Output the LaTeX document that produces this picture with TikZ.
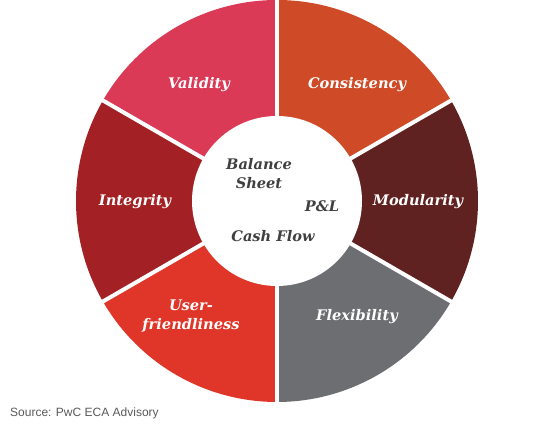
\documentclass[tikz,border=0pt]{standalone}
\usepackage{fontspec}
\setmainfont{DejaVu Serif}
\newfontfamily\sourcefont{Liberation Sans}
\definecolor{validity}{HTML}{DA3A56}
\definecolor{consistency}{HTML}{CF4B27}
\definecolor{modularity}{HTML}{602221}
\definecolor{flexibility}{HTML}{6D6E71}
\definecolor{userfriendly}{HTML}{E0362A}
\definecolor{integrity}{HTML}{A32024}
\definecolor{coretext}{HTML}{404040}
\begin{document}
\begin{tikzpicture}[x=1pt, y=1pt,
	quality/.style={text=white, font=\bfseries\itshape\fontsize{14.6}{19}\selectfont, align=center},
	statement/.style={text=coretext, font=\bfseries\itshape\fontsize{14.6}{19}\selectfont, align=center}]
	\useasboundingbox (0,0) rectangle (555,430);
	\coordinate (c) at (277,229);
	
	% Draw the ring of sectors
	\foreach \a/\col in {90/validity, 30/consistency, -30/modularity, -90/flexibility, 210/userfriendly, 150/integrity}{
		\fill[\col] (c) -- ++(\a:201) arc[start angle=\a, delta angle=60, radius=201] -- cycle;
	}
	
	% White separators and the inner circle
	\foreach \a in {90, 30, -30, -90, -150, 150}{
		\draw[white, line width=4pt] (c) -- ++(\a:205);
	}
	\fill[white] (c) circle (85);
	
	% Labels of the sectors
	\node[quality] (validity) at (199,345) {Validity};
	\node[quality] (consistency) at (357,345) {Consistency};
	\node[quality] (integrity) at (135,228) {Integrity};
	\node[quality] (modularity) at (418,228) {Modularity};
	\node[quality] (userfriendly) at (191,114) {User-\\friendliness};
	\node[quality] (flexibility) at (357,113) {Flexibility};
	
	% Statements in the centre
	\node[statement] (balance) at (259,256) {Balance\\Sheet};
	\node[statement] (pl) at (322,224) {P\&L};
	\node[statement] (cash) at (273,194) {Cash Flow};
	
	\node[anchor=west, text=black!65, font=\sourcefont\fontsize{12}{14}\selectfont, inner sep=0pt] (source) at (10,17) {Source: PwC ECA Advisory};
\end{tikzpicture}
\end{document}
